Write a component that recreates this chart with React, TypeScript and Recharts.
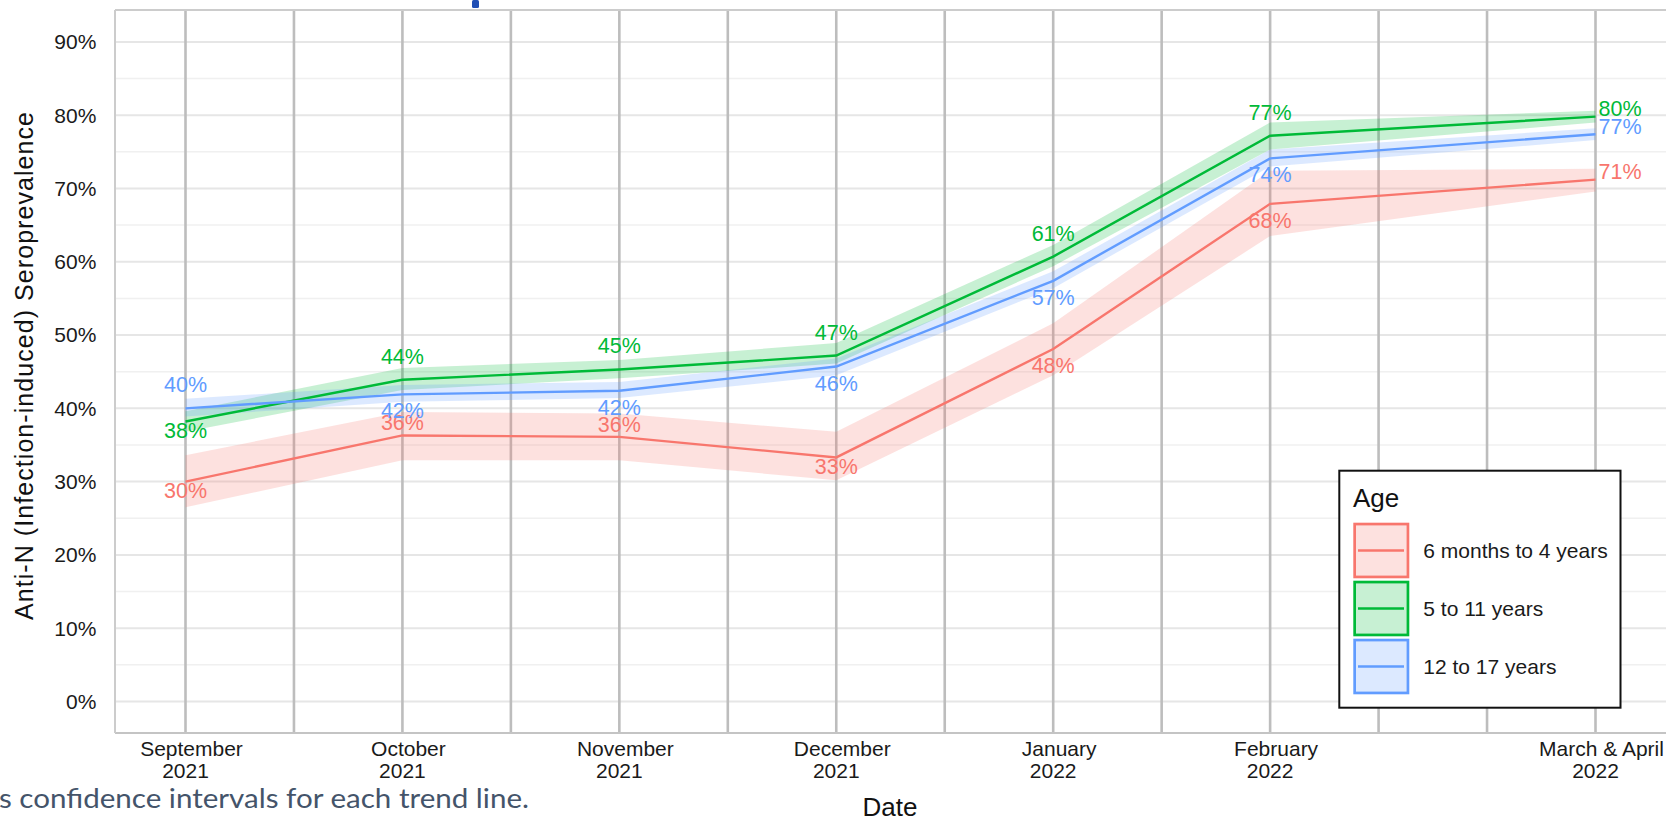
import React from "react";
import {
  ComposedChart,
  Area,
  Line,
  XAxis,
  YAxis,
  CartesianGrid,
  LabelList,
} from "recharts";

// months since September 2021 (March & April pooled at the midpoint)
const monthIndex = [0, 1, 2, 3, 4, 5, 6.5];
const monthNames = ["September", "October", "November", "December", "January", "February", "March & April"];
const monthYears = ["2021", "2021", "2021", "2021", "2022", "2022", "2022"];

// seroprevalence (%) by age group, with 95% CI bounds
const youngest = [30.0, 36.3, 36.1, 33.3, 48.1, 67.9, 71.2];
const youngestLow = [26.5, 32.9, 32.9, 30.2, 44.5, 63.5, 69.6];
const youngestHigh = [33.6, 39.5, 39.3, 36.8, 51.6, 72.4, 72.7];

const middle = [38.2, 43.9, 45.3, 47.2, 60.7, 77.2, 79.8];
const middleLow = [36.8, 42.5, 44.1, 46.1, 59.4, 75.3, 79.0];
const middleHigh = [39.6, 45.5, 46.6, 48.9, 62.3, 79.0, 80.6];

const oldest = [40.0, 41.9, 42.4, 45.7, 57.4, 74.1, 77.4];
const oldestLow = [38.9, 40.9, 41.4, 44.5, 56.4, 73.0, 76.6];
const oldestHigh = [41.3, 43.2, 43.6, 46.8, 58.7, 75.3, 78.2];

const yTicks = [0, 10, 20, 30, 40, 50, 60, 70, 80, 90];
const yMinor = [5, 15, 25, 35, 45, 55, 65, 75, 85];
const xGrid = [0, 0.5, 1, 1.5, 2, 2.5, 3, 3.5, 4, 4.5, 5, 5.5, 6, 6.5];

const X_DOMAIN: [number, number] = [-0.325, 6.825];
const Y_DOMAIN: [number, number] = [-4.3, 94.35];

const FONT = "'Liberation Sans', Arial, sans-serif";

const series = [
  { key: "youngest", name: "6 months to 4 years", color: "#F8766D",
    spots: ["belowNear", "aboveNear", "aboveNear", "belowNear", "below", "below", "end"] },
  { key: "middle", name: "5 to 11 years", color: "#00BA38",
    spots: ["belowNear", "above", "above", "above", "above", "above", "end"] },
  { key: "oldest", name: "12 to 17 years", color: "#619CFF",
    spots: ["above", "below", "below", "below", "below", "below", "end"] },
];

const data = monthIndex.map((x, i) => ({
  x,
  youngest: youngest[i],
  youngestCI: [youngestLow[i], youngestHigh[i]],
  middle: middle[i],
  middleCI: [middleLow[i], middleHigh[i]],
  oldest: oldest[i],
  oldestCI: [oldestLow[i], oldestHigh[i]],
}));

const DateTick = ({ x, y, payload }: any) => {
  const i = monthIndex.indexOf(payload.value);
  if (i < 0) return null;
  return (
    <g fontFamily={FONT} fontSize={21} fill="#1a1a1a">
      <text x={x + 6} y={y + 22.5} textAnchor="middle">{monthNames[i]}</text>
      <text x={x} y={y + 44.5} textAnchor="middle">{monthYears[i]}</text>
    </g>
  );
};

const pointLabel = (color: string, spots: string[]) => (props: any) => {
  const x = props.x ?? props.viewBox?.x;
  const y = props.y ?? props.viewBox?.y;
  const spot = spots[props.index];
  let dx = 0;
  let dy = 0;
  let anchor: "middle" | "start" = "middle";
  if (spot === "above") dy = -23;
  else if (spot === "below") dy = 17;
  else if (spot === "aboveNear") dy = -12;
  else if (spot === "belowNear") dy = 9.5;
  else if (spot === "end") {
    dx = 3;
    dy = -7.5;
    anchor = "start";
  }
  return (
    <text
      x={x + dx}
      y={y + dy}
      fill={color}
      fontSize={21.5}
      fontFamily={FONT}
      textAnchor={anchor}
      dominantBaseline="central"
    >
      {Math.round(props.value)}%
    </text>
  );
};

function AgeLegend() {
  return (
    <g fontFamily={FONT}>
      <rect x={1339.3} y={470.7} width={281.2} height={237} fill="#fff" stroke="#111" strokeWidth={2} />
      <text x={1353} y={506.7} fontSize={26} fill="#111">Age</text>
      {series.map((s, i) => {
        const top = 522.7 + i * 58;
        return (
          <g key={s.key}>
            <rect x={1354.65} y={top + 1.35} width={53.3} height={52.9} fill={s.color} fillOpacity={0.22} />
            <rect x={1354.65} y={top + 1.35} width={53.3} height={52.9} fill="none" stroke={s.color} strokeWidth={2.7} />
            <line x1={1358} x2={1404} y1={top + 27.8} y2={top + 27.8} stroke={s.color} strokeWidth={2.4} />
            <text x={1423.3} y={top + 27.8} fontSize={21} fill="#1a1a1a" dominantBaseline="central">
              {s.name}
            </text>
          </g>
        );
      })}
    </g>
  );
}

export default function App() {
  return (
    <div style={{ position: "absolute", left: 0, top: 0, width: 1666, height: 819, background: "#fff", overflow: "hidden" }}>
      <ComposedChart width={1666} height={819} data={data} margin={{ top: 10, right: 0, bottom: 0, left: 0 }}>
        <CartesianGrid horizontalValues={yMinor} vertical={false} stroke="#f0f0f0" strokeWidth={1.5} />
        <CartesianGrid horizontalValues={yTicks} vertical={false} stroke="#e6e6e6" strokeWidth={2} />
        <CartesianGrid verticalValues={xGrid} horizontal={false} stroke="#bdbdbd" strokeWidth={2.6} />
        <CartesianGrid horizontalValues={[Y_DOMAIN[1]]} vertical={false} stroke="#cccccc" strokeWidth={2} />
        <XAxis
          dataKey="x"
          type="number"
          domain={X_DOMAIN}
          allowDataOverflow
          ticks={monthIndex}
          interval={0}
          height={86}
          tickSize={0}
          tickMargin={0}
          tickLine={false}
          axisLine={{ stroke: "#c4c4c4", strokeWidth: 2 }}
          tick={<DateTick />}
        />
        <YAxis
          type="number"
          domain={Y_DOMAIN}
          allowDataOverflow
          ticks={yTicks}
          interval={0}
          width={115}
          tickSize={0}
          tickMargin={18.6}
          tickLine={false}
          axisLine={{ stroke: "#cccccc", strokeWidth: 2 }}
          tickFormatter={(v: number) => `${v}%`}
          tick={{ fontSize: 21, fill: "#1a1a1a", fontFamily: FONT }}
        />
        {series.map((s) => (
          <Area
            key={`${s.key}-ci`}
            type="linear"
            dataKey={`${s.key}CI`}
            stroke="none"
            fill={s.color}
            fillOpacity={0.22}
            isAnimationActive={false}
            activeDot={false}
            legendType="none"
          />
        ))}
        {series.map((s) => (
          <Line
            key={s.key}
            type="linear"
            dataKey={s.key}
            stroke={s.color}
            strokeWidth={2.4}
            dot={false}
            activeDot={false}
            isAnimationActive={false}
          >
            <LabelList dataKey={s.key} content={pointLabel(s.color, s.spots)} />
          </Line>
        ))}
      </ComposedChart>

      <svg
        width={1666}
        height={819}
        style={{ position: "absolute", left: 0, top: 0, pointerEvents: "none" }}
      >
        <rect x={472} y={0} width={7} height={8} rx={1.5} fill="#1f4eb4" />
        <text
          x={33.3}
          y={366}
          transform="rotate(-90 33.3 366)"
          textAnchor="middle"
          fontFamily={FONT}
          fontSize={25}
          textLength={508}
          lengthAdjust="spacing"
          fill="#111"
        >
          Anti-N (Infection-induced) Seroprevalence
        </text>
        <text x={890} y={816} textAnchor="middle" fontFamily={FONT} fontSize={26} fill="#111">
          Date
        </text>
        <AgeLegend />
        <text
          x={-1}
          y={808}
          fontFamily="Lato, 'Open Sans', sans-serif"
          fontSize={27}
          textLength={530}
          lengthAdjust="spacingAndGlyphs"
          fill="#44546a"
        >
          s confidence intervals for each trend line.
        </text>
      </svg>
    </div>
  );
}
